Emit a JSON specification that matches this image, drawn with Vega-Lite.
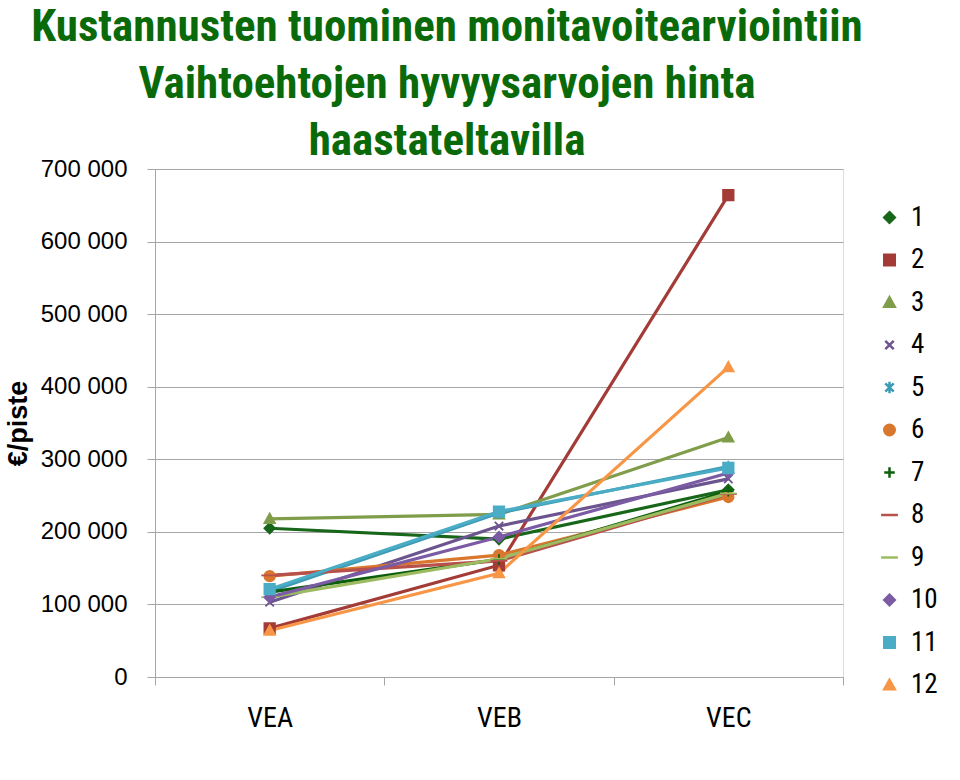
{
  "$schema": "https://vega.github.io/schema/vega-lite/v6.json",
  "width": 688,
  "height": 508,
  "autosize": {"type": "none"},
  "padding": {"left": 155, "top": 169, "right": 117, "bottom": 103},
  "background": "white",
  "title": {
    "text": ["Kustannusten tuominen monitavoitearviointiin", "Vaihtoehtojen hyvyysarvojen hinta", "haastateltavilla"],
    "anchor": "middle",
    "frame": "group",
    "dx": -52,
    "offset": -43,
    "baseline": "alphabetic",
    "lineHeight": 57,
    "font": "Liberation Sans Narrow, Roboto Condensed, DejaVu Sans Condensed, Arial Narrow, Liberation Sans",
    "fontSize": 45,
    "fontWeight": "bold",
    "color": "#0A6A0A"
  },
  "data": {
    "values": [
      {"s": "1", "x": "VEA", "v": 205000}, {"s": "1", "x": "VEB", "v": 190000}, {"s": "1", "x": "VEC", "v": 258000},
      {"s": "2", "x": "VEA", "v": 67000}, {"s": "2", "x": "VEB", "v": 154000}, {"s": "2", "x": "VEC", "v": 664000},
      {"s": "3", "x": "VEA", "v": 218000}, {"s": "3", "x": "VEB", "v": 224000}, {"s": "3", "x": "VEC", "v": 330000},
      {"s": "4", "x": "VEA", "v": 103000}, {"s": "4", "x": "VEB", "v": 208000}, {"s": "4", "x": "VEC", "v": 273000},
      {"s": "5", "x": "VEA", "v": 118000}, {"s": "5", "x": "VEB", "v": 226000}, {"s": "5", "x": "VEC", "v": 290000},
      {"s": "6", "x": "VEA", "v": 139000}, {"s": "6", "x": "VEB", "v": 168000}, {"s": "6", "x": "VEC", "v": 248000},
      {"s": "7", "x": "VEA", "v": 117000}, {"s": "7", "x": "VEB", "v": 162000}, {"s": "7", "x": "VEC", "v": 256000},
      {"s": "8", "x": "VEA", "v": 140000}, {"s": "8", "x": "VEB", "v": 160000}, {"s": "8", "x": "VEC", "v": 252000},
      {"s": "9", "x": "VEA", "v": 110000}, {"s": "9", "x": "VEB", "v": 163000}, {"s": "9", "x": "VEC", "v": 253000},
      {"s": "10", "x": "VEA", "v": 110000}, {"s": "10", "x": "VEB", "v": 193000}, {"s": "10", "x": "VEC", "v": 281000},
      {"s": "11", "x": "VEA", "v": 121000}, {"s": "11", "x": "VEB", "v": 228000}, {"s": "11", "x": "VEC", "v": 288000},
      {"s": "12", "x": "VEA", "v": 64000}, {"s": "12", "x": "VEB", "v": 143000}, {"s": "12", "x": "VEC", "v": 427000}
    ]
  },
  "encoding": {
    "x": {
      "field": "x", "type": "nominal",
      "scale": {"type": "band", "paddingInner": 0, "paddingOuter": 0},
      "axis": {
        "title": null, "labelAngle": 0, "tickBand": "extent",
        "domainColor": "#A6A6A6", "tickColor": "#A6A6A6", "tickSize": 8,
        "labelFont": "Liberation Sans Narrow, Roboto Condensed, DejaVu Sans Condensed, Arial Narrow, Liberation Sans", "labelFontSize": 28, "labelColor": "black",
        "labelPadding": 19
      }
    },
    "y": {
      "field": "v", "type": "quantitative",
      "scale": {"domain": [0, 700000], "nice": false},
      "axis": {
        "title": "€/piste", "values": [0, 100000, 200000, 300000, 400000, 500000, 600000, 700000],
        "labelExpr": "replace(format(datum.value, ',d'), ',', ' ')",
        "grid": true, "gridColor": "#A6A6A6",
        "domainColor": "#A6A6A6", "tickColor": "#A6A6A6", "tickSize": 8,
        "labelFont": "Liberation Sans", "labelFontSize": 24, "labelColor": "black", "labelPadding": 20,
        "titleFont": "Liberation Sans", "titleFontSize": 27, "titleFontWeight": "bold", "titleColor": "black",
        "titlePadding": 8
      }
    },
    "color": {
      "field": "s", "type": "nominal",
      "scale": {
        "domain": ["1", "2", "3", "4", "5", "6", "7", "8", "9", "10", "11", "12"],
        "range": ["#17661A", "#A33B36", "#7F9D4A", "#6C558E", "#3D9BB5", "#D9772E", "#0B5E0B", "#B8504B", "#9DBB61", "#7B5BA3", "#4BACC6", "#F79646"]
      },
      "legend": {
        "title": null, "orient": "none", "legendX": 721, "legendY": 35,
        "padding": 0, "symbolSize": 110, "symbolStrokeWidth": 2.5,
        "labelFont": "Liberation Sans Narrow, Roboto Condensed, DejaVu Sans Condensed, Arial Narrow, Liberation Sans", "labelFontSize": 27, "labelColor": "black",
        "labelOffset": 8, "rowPadding": 14.5
      }
    }
  },
  "layer": [
    {
      "mark": {"type": "line", "strokeWidth": 3.2},
      "encoding": {"detail": {"field": "s"}}
    },
    {
      "mark": {"type": "point", "filled": true, "size": 110, "strokeWidth": 1.8, "opacity": 1},
      "encoding": {
        "stroke": {"field": "s", "type": "nominal", "scale": {
          "domain": ["1", "2", "3", "4", "5", "6", "7", "8", "9", "10", "11", "12"],
          "range": ["#17661A", "#A33B36", "#7F9D4A", "#6C558E", "#3D9BB5", "#D9772E", "#0B5E0B", "#B8504B", "#9DBB61", "#7B5BA3", "#4BACC6", "#F79646"]}},
        "shape": {
          "field": "s", "type": "nominal",
          "scale": {
            "domain": ["1", "2", "3", "4", "5", "6", "7", "8", "9", "10", "11", "12"],
            "range": [
              "M0,-1L1,0L0,1L-1,0Z",
              "M-1,-1H1V1H-1Z",
              "M0,-1L1,0.8H-1Z",
              "M-0.8,-0.8L0.8,0.8M-0.8,0.8L0.8,-0.8",
              "M-0.8,-0.8L0.8,0.8M-0.8,0.8L0.8,-0.8M0,-1.1V1.1",
              "M1,0A1,1,0,1,1,-1,0A1,1,0,1,1,1,0Z",
              "M-1,0H1M0,-1V1",
              "M-1.6,0H1.6",
              "M-1.6,0H1.6",
              "M0,-1L1,0L0,1L-1,0Z",
              "M-1,-1H1V1H-1Z",
              "M0,-1L1,0.8H-1Z"
            ]
          }
        }
      }
    }
  ]
}
